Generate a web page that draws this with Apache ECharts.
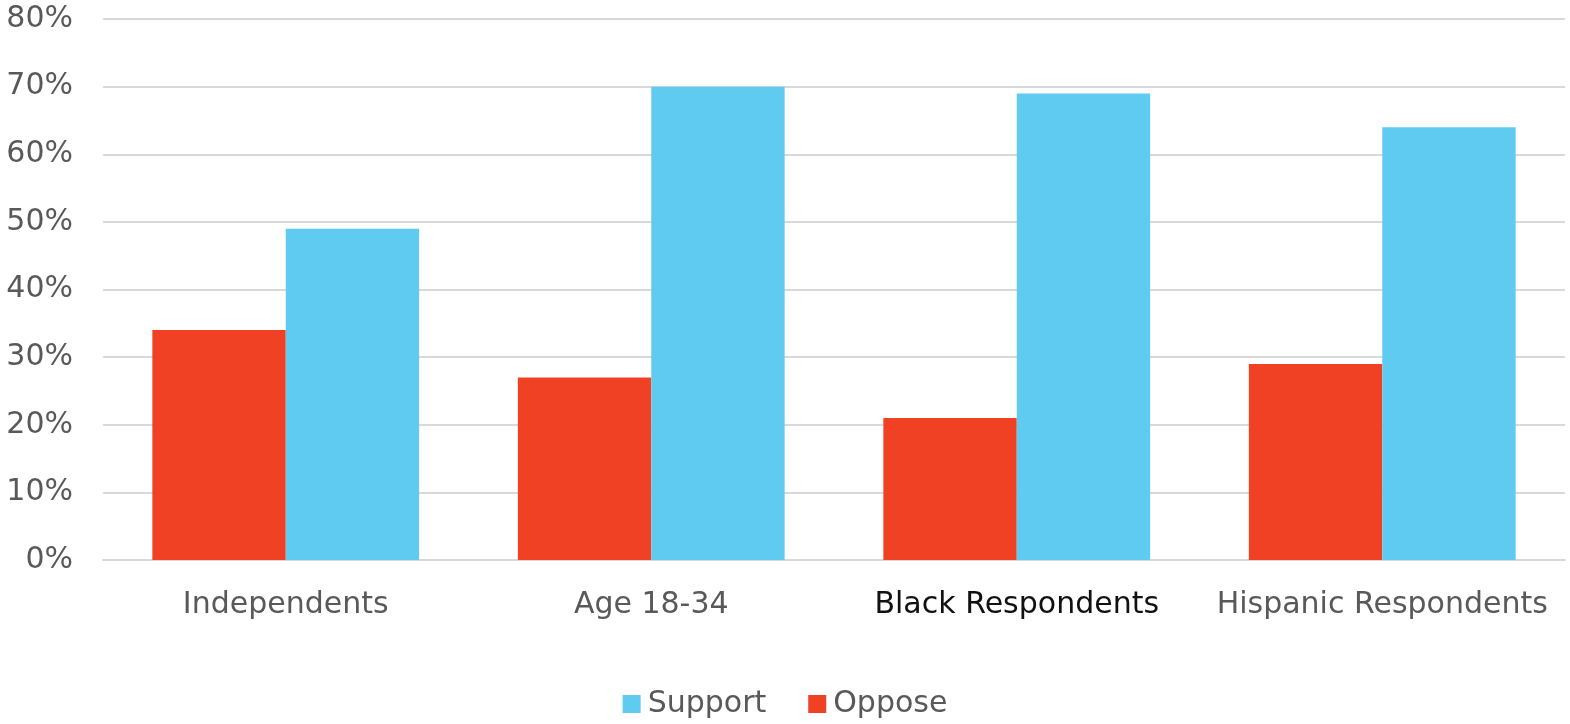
<!DOCTYPE html>
<html>
<head>
<meta charset="utf-8">
<script src="https://cdn.jsdelivr.net/npm/echarts@6/dist/echarts.min.js"></script>
<style>
  html, body { margin: 0; padding: 0; background: #fff; }
  #chart { width: 1570px; height: 724px; }
</style>
</head>
<body>
<div id="chart"></div>
<script>
// Survey groups and share of respondents (percent)
const categories = ['Independents', 'Age 18-34', 'Black Respondents', 'Hispanic Respondents'];
const opposeValues = [34, 27, 21, 29];
const supportValues = [49, 70, 69, 64];
const yTicks = [0, 10, 20, 30, 40, 50, 60, 70, 80];

const FONT = 'DejaVu Sans';
const GREY = '#595959';
const SIZE = 30;

const chart = echarts.init(document.getElementById('chart'), null, { renderer: 'canvas' });
chart.setOption({
  backgroundColor: '#ffffff',
  animation: false,
  textStyle: { fontFamily: FONT },
  grid: { left: 103, right: 5, top: 19, bottom: 164, containLabel: false },
  legend: {
    data: ['Support', 'Oppose'],
    bottom: 0,
    left: 'center',
    itemWidth: 18,
    itemHeight: 18,
    itemGap: 42,
    icon: 'rect',
    textStyle: { fontFamily: FONT, fontSize: SIZE, color: GREY, padding: [0, 0, 0, 2] }
  },
  xAxis: {
    type: 'category',
    data: categories,
    axisLine: { show: true, lineStyle: { color: '#d9d9d9', width: 2 } },
    axisTick: { show: false },
    axisLabel: {
      margin: 30,
      fontFamily: FONT,
      fontSize: SIZE,
      color: GREY,
      interval: 0,
      formatter: function (v) {
        return v === 'Black Respondents' ? '{dark|' + v + '}' : v;
      },
      rich: { dark: { color: '#111111', fontFamily: FONT, fontSize: SIZE } }
    }
  },
  yAxis: {
    type: 'value',
    min: yTicks[0],
    max: yTicks[yTicks.length - 1],
    interval: 10,
    axisLine: { show: false },
    axisTick: { show: false },
    splitLine: { lineStyle: { color: '#d9d9d9', width: 2 } },
    axisLabel: {
      margin: 30,
      fontFamily: FONT,
      fontSize: SIZE,
      color: GREY,
      formatter: '{value}%'
    }
  },
  series: [
    {
      name: 'Oppose',
      type: 'bar',
      data: opposeValues,
      barGap: '0%',
      barCategoryGap: '27%',
      itemStyle: { color: '#F04124' }
    },
    {
      name: 'Support',
      type: 'bar',
      data: supportValues,
      barGap: '0%',
      barCategoryGap: '27%',
      itemStyle: { color: '#5FCBF1' }
    }
  ]
});
</script>
</body>
</html>
